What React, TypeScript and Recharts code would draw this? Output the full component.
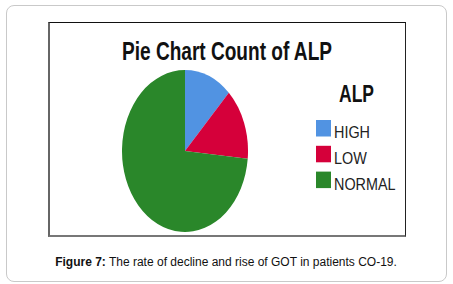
import { PieChart, Pie, Cell } from 'recharts';

// ALP counts
const categories = ['HIGH', 'LOW', 'NORMAL'];
const counts = [12, 14, 72];
const colors = ['#5193e2', '#d5003a', '#2a872a'];

const chartTitle = 'Pie Chart Count of ALP';
const legendTitle = 'ALP';
const captionLabel = 'Figure 7:';
const captionText = ' The rate of decline and rise of GOT in patients CO-19.';

const data = categories.map((name, i) => ({ name, value: counts[i] }));

export default function App() {
  return (
    <div
      style={{
        position: 'absolute',
        left: 0,
        top: 0,
        width: 453,
        height: 284,
        background: '#fff',
        fontFamily: '"Liberation Sans", Arial, sans-serif',
      }}
    >
      {/* outer rounded frame */}
      <div
        style={{
          position: 'absolute',
          left: 6,
          top: 5,
          width: 439,
          height: 275,
          border: '1.5px solid #c9c9c9',
          borderRadius: 8,
        }}
      />
      {/* image frame */}
      <div
        style={{
          position: 'absolute',
          left: 48,
          top: 22,
          width: 355,
          height: 212,
          borderTop: '1px solid #111',
          borderRight: '1.5px solid #222',
          borderLeft: '2px solid #666',
          borderBottom: '2.5px solid #777',
        }}
      />

      <svg
        width={453}
        height={284}
        style={{ position: 'absolute', left: 0, top: 0 }}
      >
        <text
          x={122}
          y={60}
          fontSize={26}
          fontWeight="bold"
          fill="#111"
          textLength={210}
          lengthAdjust="spacingAndGlyphs"
        >
          {chartTitle}
        </text>
        <text
          x={339}
          y={102}
          fontSize={23}
          fontWeight="bold"
          fill="#111"
          textLength={35}
          lengthAdjust="spacingAndGlyphs"
        >
          {legendTitle}
        </text>
        {data.map((d, i) => (
          <g key={d.name}>
            <rect
              x={316}
              y={120 + i * 25.8}
              width={15}
              height={16.5}
              fill={colors[i]}
            />
            <g transform={`translate(334 ${138.3 + i * 25.8}) scale(0.9 1.05)`}>
              <text x={0} y={0} fontSize={16} fill="#222">
                {d.name}
              </text>
            </g>
          </g>
        ))}
        <text x={226} y={266} fontSize={12} fill="#111" textAnchor="middle">
          <tspan fontWeight="bold">{captionLabel}</tspan>
          {captionText}
        </text>
      </svg>

      <div
        style={{
          position: 'absolute',
          left: 115,
          top: 81,
          width: 140,
          height: 140,
          transform: 'scaleY(1.2857)',
          transformOrigin: 'center',
        }}
      >
        <PieChart
          width={140}
          height={140}
          margin={{ top: 0, right: 0, bottom: 0, left: 0 }}
        >
          <Pie
            data={data}
            dataKey="value"
            nameKey="name"
            cx={70}
            cy={70}
            outerRadius={63}
            startAngle={90}
            endAngle={-270}
            stroke="none"
            isAnimationActive={false}
          >
            {data.map((d, i) => (
              <Cell key={d.name} fill={colors[i]} />
            ))}
          </Pie>
        </PieChart>
      </div>
    </div>
  );
}
